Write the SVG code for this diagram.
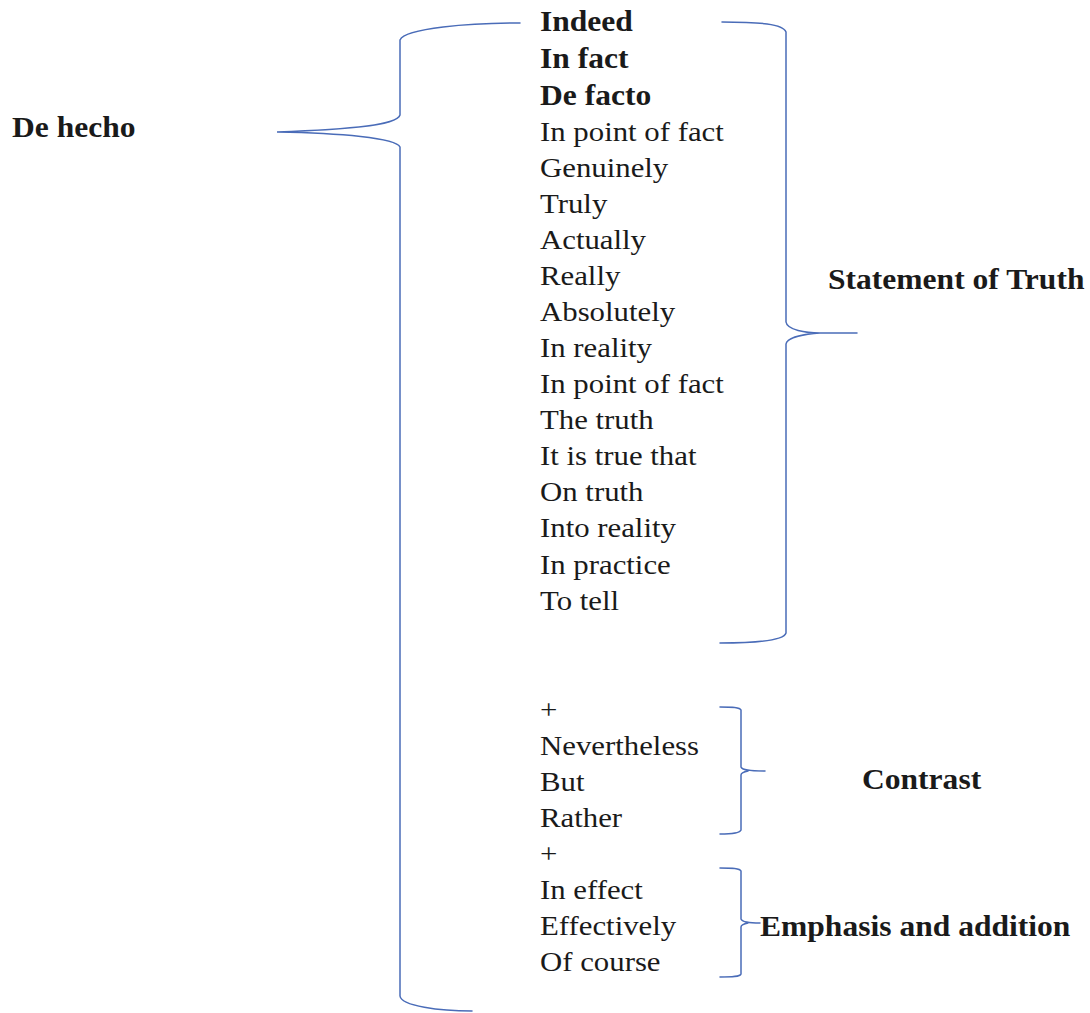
<svg xmlns="http://www.w3.org/2000/svg" width="1090" height="1013" viewBox="0 0 1090 1013">
  <style>
    .t { font-family: "Liberation Serif", "Times New Roman", serif; font-size: 28px; fill: #1a1a1a; }
    .b { font-weight: bold; font-size: 29.5px; }
    .brace { fill: none; stroke: #4a6cb8; stroke-width: 1.5; stroke-linecap: round; }
  </style>
  <rect width="1090" height="1013" fill="#ffffff"/>

  <!-- braces -->
  <g id="connectors">
    <!-- large brace joining "De hecho" to the whole list -->
    <path class="brace" d="M520,23 C470,23 405,28 400,40 L400,115 C397,126 340,130 277,132 C340,133 396,138 400,147 L400,996 C401,1006 440,1011 472,1011"/>
    <!-- brace for the statement-of-truth group -->
    <path class="brace" d="M722,22 C760,22 783,24 786,32 L786,322 C787,330 806,333 820,333 L857,333 M820,333 C806,334 787,337 786,344 L786,633 C784,640 760,643 720,643"/>
    <!-- brace for the contrast group -->
    <path class="brace" d="M720,707 C732,707 740,707 741,710 L741,767 C742,770 748,771 765,771 M748,771 C743,772 741,773 741,775 L741,830 C740,833 732,834 720,834"/>
    <!-- brace for the emphasis group -->
    <path class="brace" d="M720,868 C732,868 740,868 741,871 L741,919 C742,922 748,923 760,923 M748,923 C743,924 741,925 741,927 L741,974 C740,977 732,977 720,977"/>
  </g>

  <g id="source">
    <text class="t b" transform="translate(12,137) scale(1.07,1)">De hecho</text>
  </g>

  <g id="truth-list" class="t">
    <g transform="translate(540,0) scale(1.07,1)">
      <text class="b" y="31">Indeed</text>
      <text class="b" y="68">In fact</text>
      <text class="b" y="105">De facto</text>
    </g>
    <g transform="translate(540,0) scale(1.1,1)">
      <text y="141">In point of fact</text>
      <text y="177">Genuinely</text>
      <text y="213">Truly</text>
      <text y="249">Actually</text>
      <text y="285">Really</text>
      <text y="321">Absolutely</text>
      <text y="357">In reality</text>
      <text y="393">In point of fact</text>
      <text y="429">The truth</text>
      <text y="465">It is true that</text>
      <text y="501">On truth</text>
      <text y="537">Into reality</text>
      <text y="574">In practice</text>
      <text y="610">To tell</text>
    </g>
  </g>

  <g id="contrast-list" class="t">
    <g transform="translate(540,0) scale(1.1,1)">
      <text y="719">+</text>
      <text y="755">Nevertheless</text>
      <text y="791">But</text>
      <text y="827">Rather</text>
    </g>
  </g>

  <g id="emphasis-list" class="t">
    <g transform="translate(540,0) scale(1.1,1)">
      <text y="863">+</text>
      <text y="899">In effect</text>
      <text y="935">Effectively</text>
      <text y="971">Of course</text>
    </g>
  </g>

  <g id="statement-of-truth">
    <text class="t b" transform="translate(828,289) scale(1.07,1)">Statement of Truth</text>
  </g>
  <g id="contrast">
    <text class="t b" transform="translate(862,789) scale(1.07,1)">Contrast</text>
  </g>
  <g id="emphasis-and-addition">
    <text class="t b" transform="translate(760,936) scale(1.07,1)">Emphasis and addition</text>
  </g>
</svg>
